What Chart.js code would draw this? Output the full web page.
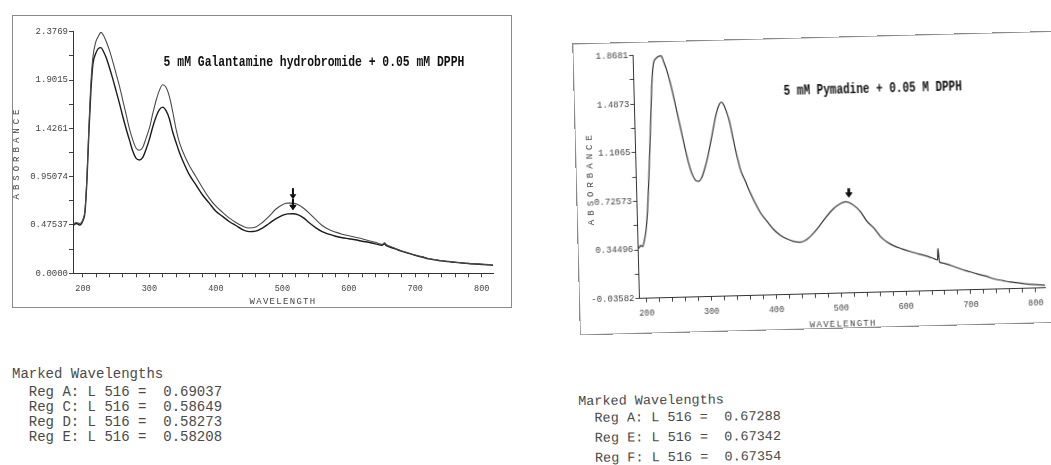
<!DOCTYPE html>
<html>
<head>
<meta charset="utf-8">
<script src="https://cdn.jsdelivr.net/npm/chart.js@4.4.1/dist/chart.umd.min.js"></script>
<style>
  html, body { margin: 0; padding: 0; background: #fff; }
  body { width: 1051px; height: 465px; position: relative; overflow: hidden; }
  .panel { position: absolute; }
  .panel canvas { position: absolute; left: 0; top: 0; }
  .frame { position: absolute; left: 0; top: 0; width: 100%; height: 100%; box-sizing: border-box; border: 1.5px solid #8a8a8a; }
  #galPanel { left: 12px; top: 15px; width: 500px; height: 293px; }
  #pymPanel { left: 576px; top: 36.5px; width: 492px; height: 292px; transform: rotate(-1.5deg); }
  .marked { position: absolute; font-family: "Liberation Mono", "Courier New", monospace; color: #4a4a4a; white-space: pre; }
  #galMarked { left: 12px; top: 367px; font-size: 14px; line-height: 15px; }
  #galMarked div:first-child { margin-bottom: 3px; }
  #pymMarked { left: 578px; top: 391.5px; font-size: 13.5px; line-height: 20px; transform: rotate(-0.6deg); transform-origin: left top; }
  #pymMarked div:first-child { margin-bottom: -3.4px; }
</style>
</head>
<body>
<div class="panel" id="galPanel"><canvas id="galChart" width="500" height="293"></canvas><div class="frame"></div></div>
<div class="panel" id="pymPanel"><canvas id="pymChart" width="492" height="292"></canvas><div class="frame"></div></div>
<div class="marked" id="galMarked"></div>
<div class="marked" id="pymMarked"></div>
<script>
const markedWavelength = 516;
const xLabels = [200, 300, 400, 500, 600, 700, 800];

// 5 mM Galantamine hydrobromide + 0.05 mM DPPH
const galTitle = "5 mM Galantamine hydrobromide + 0.05 mM DPPH";
const galWavelength = [185, 190, 195, 200, 203, 206, 209, 212, 215, 219, 223, 227, 231, 235,
  240, 245, 250, 255, 260, 265, 270, 275, 280, 285, 290, 295, 300, 305, 310, 315, 320, 325,
  330, 335, 340, 345, 350, 360, 370, 380, 390, 400, 410, 420, 430, 440, 450, 460, 470, 480,
  490, 500, 508, 516, 524, 532, 540, 550, 560, 570, 580, 590, 600, 610, 620, 630, 640, 650,
  654, 656, 660, 670, 680, 690, 700, 710, 720, 730, 740, 750, 760, 770, 780, 790, 800, 810, 817];
const galRegA = [0.48, 0.50, 0.49, 0.53, 0.62, 0.95, 1.45, 1.88, 2.13, 2.27, 2.33, 2.37, 2.34, 2.28,
  2.19, 2.08, 1.96, 1.84, 1.70, 1.56, 1.42, 1.31, 1.23, 1.21, 1.24, 1.33, 1.43, 1.57, 1.70, 1.80, 1.855, 1.83,
  1.74, 1.59, 1.42, 1.29, 1.20, 1.06, 0.95, 0.84, 0.74, 0.66, 0.60, 0.545, 0.50, 0.465, 0.445, 0.455, 0.50, 0.56,
  0.63, 0.675, 0.69, 0.69, 0.675, 0.64, 0.595, 0.53, 0.47, 0.43, 0.405, 0.385, 0.37, 0.355, 0.34, 0.32, 0.305, 0.285,
  0.30, 0.285, 0.27, 0.245, 0.22, 0.20, 0.18, 0.165, 0.145, 0.135, 0.125, 0.118, 0.11, 0.104, 0.098, 0.094, 0.09, 0.085, 0.082];
const galRegCDE = [0.47, 0.49, 0.475, 0.52, 0.60, 0.92, 1.40, 1.80, 2.06, 2.16, 2.21, 2.22, 2.18, 2.12,
  2.02, 1.91, 1.79, 1.67, 1.54, 1.42, 1.31, 1.20, 1.13, 1.115, 1.14, 1.22, 1.32, 1.44, 1.54, 1.61, 1.635, 1.60,
  1.52, 1.39, 1.29, 1.19, 1.11, 0.97, 0.87, 0.77, 0.69, 0.61, 0.56, 0.51, 0.47, 0.43, 0.41, 0.415, 0.445, 0.49,
  0.535, 0.57, 0.585, 0.586, 0.575, 0.545, 0.50, 0.45, 0.41, 0.385, 0.365, 0.35, 0.34, 0.33, 0.315, 0.305, 0.29, 0.275,
  0.29, 0.275, 0.262, 0.24, 0.215, 0.196, 0.176, 0.16, 0.142, 0.132, 0.122, 0.115, 0.107, 0.101, 0.096, 0.091, 0.087, 0.083, 0.079];
const galYTicks = [0, 0.47537, 0.95074, 1.4261, 1.9015, 2.3769];
const galYLabels = ["0.0000", "0.47537", "0.95074", "1.4261", "1.9015", "2.3769"];
const galMarkedRegs = ["A", "C", "D", "E"];
const galMarkedValues = [0.69037, 0.58649, 0.58273, 0.58208];

// 5 mM Pymadine + 0.05 M DPPH
const pymTitle = "5 mM Pymadine + 0.05 M DPPH";
const pymWavelength = [186, 190, 193, 196, 199, 202, 205, 208, 211, 214, 217, 220, 224, 228, 232,
  236, 240, 245, 250, 255, 260, 265, 270, 275, 280, 285, 290, 295, 300, 305, 310, 315, 320, 323, 326,
  330, 335, 340, 345, 350, 357, 364, 371, 379, 389, 399, 409, 419, 429, 439, 449, 460, 470, 481, 492,
  502, 510, 516, 523, 533, 543, 553, 563, 573, 583, 595, 609, 622, 635, 645, 650, 651, 653, 656, 670,
  685, 700, 710, 724, 736, 750, 761, 775, 787, 800, 812, 815];
const pymAbsorbance = [0.38, 0.36, 0.38, 0.37, 0.42, 0.50, 0.65, 0.88, 1.13, 1.40, 1.66, 1.80, 1.84, 1.855, 1.86,
  1.81, 1.75, 1.65, 1.53, 1.40, 1.27, 1.14, 1.02, 0.93, 0.88, 0.87, 0.90, 0.97, 1.06, 1.17, 1.29, 1.40, 1.47, 1.485, 1.47,
  1.42, 1.33, 1.19, 1.06, 0.95, 0.86, 0.77, 0.69, 0.61, 0.54, 0.475, 0.43, 0.40, 0.38, 0.372, 0.39, 0.44, 0.50, 0.57, 0.63,
  0.665, 0.68, 0.673, 0.65, 0.60, 0.52, 0.47, 0.40, 0.355, 0.325, 0.30, 0.275, 0.255, 0.235, 0.215, 0.205, 0.295, 0.19, 0.182, 0.16,
  0.13, 0.105, 0.088, 0.068, 0.046, 0.03, 0.018, 0.008, -0.002, -0.008, -0.014, -0.016];
const pymYTicks = [-0.03582, 0.34496, 0.72573, 1.1065, 1.4873, 1.8681];
const pymYLabels = ["-0.03582", "0.34496", "0.72573", "1.1065", "1.4873", "1.8681"];
const pymMarkedRegs = ["A", "E", "F"];
const pymMarkedValues = [0.67288, 0.67342, 0.67354];

const mono = '"Liberation Mono", "Courier New", monospace';

// draw the axis title with letter spacing, like the plotter output
const spaced = (px) => (axis) => {
  if (axis._spaced) return;
  axis._spaced = true;
  const drawTitle = axis.drawTitle.bind(axis);
  axis.drawTitle = () => {
    axis.ctx.save();
    axis.ctx.letterSpacing = px + "px";
    drawTitle();
    axis.ctx.restore();
  };
};

// inner title and the marker arrows
const annotate = {
  id: "annotate",
  afterDatasetsDraw(chart, args, opts) {
    const { ctx, chartArea, scales: { x, y } } = chart;
    ctx.save();
    ctx.fillStyle = "#111";
    ctx.font = "bold " + opts.titleSize + "px " + mono;
    ctx.textAlign = "center";
    ctx.textBaseline = "middle";
    ctx.translate(chartArea.left + opts.titleX, chartArea.top + opts.titleY);
    ctx.scale(1, 1.3);
    ctx.fillText(opts.title, 0, 0);
    ctx.restore();

    ctx.save();
    ctx.fillStyle = "#111";
    ctx.strokeStyle = "#111";
    ctx.lineWidth = 2;
    opts.marks.forEach((v) => {
      const px = x.getPixelForValue(markedWavelength);
      const tip = y.getPixelForValue(v) - opts.gap;
      ctx.beginPath();
      ctx.moveTo(px, tip - opts.len);
      ctx.lineTo(px, tip - 4);
      ctx.stroke();
      ctx.beginPath();
      ctx.moveTo(px - 3.5, tip - 5);
      ctx.lineTo(px + 3.5, tip - 5);
      ctx.lineTo(px, tip);
      ctx.closePath();
      ctx.fill();
    });
    ctx.restore();
  },
};

const points = (xs, ys) => xs.map((w, i) => ({ x: w, y: ys[i] }));

const spectrum = (id, c) => {
  return new Chart(document.getElementById(id), {
    type: "line",
    data: {
      datasets: c.series.map((s) => ({
        label: s.label,
        data: points(c.wavelength, s.values),
        borderColor: s.color,
        borderWidth: s.width,
        pointRadius: 0,
        cubicInterpolationMode: "monotone",
      })),
    },
    options: {
      responsive: false,
      animation: false,
      devicePixelRatio: 1,
      layout: { padding: { left: 0, top: c.top, right: c.right, bottom: 0 } },
      plugins: {
        legend: { display: false },
        tooltip: { enabled: false },
        annotate: c.annotate,
      },
      scales: {
        x: {
          type: "linear",
          min: c.xMin,
          max: c.xMax,
          afterBuildTicks: (axis) => {
            const ticks = [];
            for (let v = xLabels[0]; v <= axis.max; v += 20) ticks.push({ value: v });
            axis.ticks = ticks;
          },
          afterFit: (axis) => { axis.height = c.xHeight; },
          afterUpdate: spaced(1.3),
          ticks: {
            autoSkip: false,
            maxRotation: 0,
            padding: 6,
            color: "#444",
            font: { family: mono, size: 8.5 },
            callback: (v) => (xLabels.includes(v) ? String(v) : ""),
          },
          grid: { drawOnChartArea: false, drawTicks: true, tickLength: 4, color: "#444" },
          border: { display: true, color: "#333", width: 1 },
          title: {
            display: true,
            text: "WAVELENGTH",
            color: "#444",
            font: { family: mono, size: 9, lineHeight: 1 },
            padding: { top: 0, bottom: c.xTitlePad },
          },
        },
        y: {
          type: "linear",
          min: c.yTicks[0],
          max: c.yTicks[c.yTicks.length - 1],
          afterBuildTicks: (axis) => {
            const ticks = [];
            c.yTicks.forEach((v, i) => {
              ticks.push({ value: v });
              if (i < c.yTicks.length - 1) ticks.push({ value: (v + c.yTicks[i + 1]) / 2 });
            });
            axis.ticks = ticks;
          },
          afterFit: (axis) => { axis.width = c.yWidth; },
          afterUpdate: spaced(4),
          ticks: {
            autoSkip: false,
            padding: 1,
            color: "#444",
            font: { family: mono, size: 9 },
            callback: (v) => {
              const i = c.yTicks.findIndex((t) => Math.abs(t - v) < 1e-6);
              return i < 0 ? "" : c.yLabels[i];
            },
          },
          grid: { drawOnChartArea: false, drawTicks: true, tickLength: 4, color: "#444" },
          border: { display: true, color: "#333", width: 1 },
          title: {
            display: true,
            text: "ABSORBANCE",
            color: "#444",
            font: { family: mono, size: 9, lineHeight: 1 },
            padding: { top: c.yTitlePad, bottom: 0 },
          },
        },
      },
    },
    plugins: [annotate],
  });
};

spectrum("galChart", {
  wavelength: galWavelength,
  series: [
    { label: "Reg A", values: galRegA, color: "#4a4a4a", width: 1.1 },
    { label: "Reg C / D / E", values: galRegCDE, color: "#1c1c1c", width: 1.4 },
  ],
  xMin: 185, xMax: 817,
  yTicks: galYTicks, yLabels: galYLabels,
  top: 16.7, right: 19, yWidth: 61, xHeight: 34.7, xTitlePad: 2, yTitlePad: 0,
  annotate: { title: galTitle, titleSize: 11.4, titleX: 241, titleY: 30.3, marks: galMarkedValues, gap: 4, len: 11 },
});

spectrum("pymChart", {
  wavelength: pymWavelength,
  series: [{ label: "Reg A", values: pymAbsorbance, color: "#333", width: 1.2 }],
  xMin: 189, xMax: 815,
  yTicks: pymYTicks, yLabels: pymYLabels,
  top: 13.6, right: 25.5, yWidth: 60.5, xHeight: 35.3, xTitlePad: 0, yTitlePad: 9.7,
  annotate: { title: pymTitle, titleSize: 11, titleX: 238.7, titleY: 40.3, marks: pymMarkedValues, gap: 5, len: 9 },
});

// the printed "Marked Wavelengths" blocks
const markedBlock = (id, regs, values) => {
  const el = document.getElementById(id);
  const lines = ["Marked Wavelengths"].concat(
    regs.map((r, i) => "  Reg " + r + ": L " + markedWavelength + " =  " + values[i].toFixed(5))
  );
  lines.forEach((t) => {
    const d = document.createElement("div");
    d.textContent = t;
    el.appendChild(d);
  });
};
markedBlock("galMarked", galMarkedRegs, galMarkedValues);
markedBlock("pymMarked", pymMarkedRegs, pymMarkedValues);
</script>
</body>
</html>
